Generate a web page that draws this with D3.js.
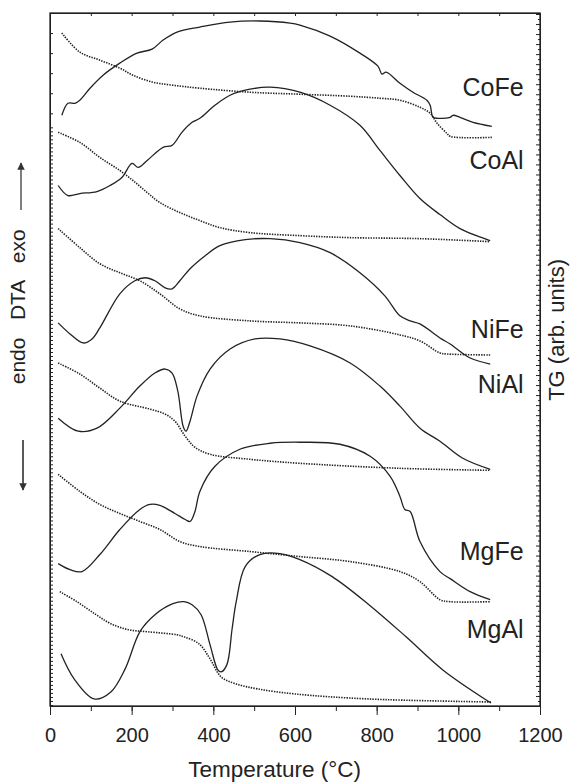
<!DOCTYPE html>
<html>
<head>
<meta charset="utf-8">
<script src="https://cdn.jsdelivr.net/npm/d3@7.9.0/dist/d3.min.js"></script>
<style>
  body { margin: 0; background: #fff; }
  svg { display: block; font-family: "Liberation Sans", Arial, sans-serif; }
  .axis path, .axis line { stroke: #222; }
  .axis text { font-size: 20px; fill: #222; font-family: "Liberation Sans", Arial, sans-serif; }
</style>
</head>
<body>
<div id="chart"></div>
<script>
// temperature ticks (°C)
const tempTicks = [0, 200, 400, 600, 800, 1000, 1200];
const samples = ['CoFe', 'CoAl', 'NiFe', 'NiAl', 'MgFe', 'MgAl'];

// curves: [temperature °C, signal (arb. units, stacked)]
const dtaCoFe = [[29,589],[44,601],[61,601],[73,604],[98,616],[130,629],[171,641],[213,651],[250,655],[277,664],[311,672],[367,677],[441,682],[514,683],[588,681],[612,679],[686,668],[759,651],[803,638],[813,630],[823,632],[857,621],[889,612],[923,604],[931,599],[938,587],[950,586],[980,587],[987,589],[1004,587],[1036,582],[1082,578]];
const tgCoFe = [[29,671],[73,652],[122,644],[171,636],[203,629],[252,622],[301,619],[367,616],[490,612],[612,610],[735,608],[808,606],[857,604],[906,597],[931,591],[948,581],[972,571],[980,568],[1082,567]];

const dtaCoAl = [[20,519],[44,509],[73,511],[115,513],[147,519],[176,527],[201,541],[216,537],[238,544],[277,557],[299,559],[323,572],[348,582],[367,586],[404,599],[441,609],[490,615],[539,617],[612,612],[686,599],[759,579],[808,554],[857,529],[906,506],[955,490],[1004,476],[1078,464]];
const tgCoAl = [[20,572],[73,562],[122,547],[171,534],[203,524],[238,512],[269,502],[318,492],[367,484],[416,477],[490,472],[612,469],[735,467],[906,466],[1078,463]];

const dtaNiFe = [[20,382],[49,371],[81,362],[103,366],[122,377],[171,411],[208,424],[233,427],[257,424],[282,417],[299,416],[318,424],[343,436],[380,449],[416,459],[478,465],[539,466],[612,462],[686,452],[759,432],[820,409],[857,389],[882,384],[906,381],[955,367],[980,361],[1029,347],[1078,341]];
const tgNiFe = [[20,476],[73,457],[122,441],[171,432],[220,424],[269,411],[318,396],[367,389],[490,384],[612,382],[735,379],[857,370],[906,364],[955,352],[972,351],[1078,350]];

const dtaNiAl = [[20,287],[69,274],[115,277],[171,297],[220,319],[257,332],[282,336],[299,332],[313,314],[326,279],[333,274],[343,284],[360,309],[392,336],[441,356],[502,366],[563,366],[637,359],[735,342],[808,319],[857,299],[906,277],[955,264],[1011,247],[1078,236]];
const tgNiAl = [[20,342],[73,331],[122,317],[171,304],[245,296],[282,291],[306,284],[331,269],[355,258],[392,251],[490,246],[612,242],[857,237],[1078,235]];

const dtaMgFe = [[20,142],[49,136],[78,134],[122,151],[171,176],[220,196],[245,201],[269,200],[306,192],[331,186],[343,184],[355,194],[367,214],[404,239],[465,256],[539,262],[612,263],[710,261],[784,249],[833,229],[857,209],[869,196],[882,194],[906,164],[955,134],[980,127],[1029,114],[1078,106]];
const tgMgFe = [[20,231],[73,214],[122,201],[171,192],[220,184],[269,176],[318,164],[367,159],[490,154],[612,149],[735,144],[857,134],[906,124],[955,106],[980,104],[1078,104]];

const dtaMgAl = [[27,52],[59,27],[108,7],[149,14],[184,37],[220,74],[257,91],[301,102],[328,104],[348,101],[370,91],[392,61],[411,36],[419,34],[433,41],[446,77],[456,104],[478,139],[514,151],[563,152],[612,146],[691,129],[781,101],[872,69],[962,36],[1080,3]];
const tgMgAl = [[24,114],[66,104],[113,91],[149,82],[193,76],[240,74],[311,71],[328,69],[365,62],[392,47],[419,29],[456,22],[509,17],[600,12],[781,7],[1080,4]];

const dtaSeries = [dtaCoFe, dtaCoAl, dtaNiFe, dtaNiAl, dtaMgFe, dtaMgAl];
const tgSeries = [tgCoFe, tgCoAl, tgNiFe, tgNiAl, tgMgFe, tgMgAl];
// signal level at which each sample name sits
const labelLevels = [608, 535, 367, 312, 146, 68];

const width = 578, height = 784;
const margin = { top: 13, right: 38, bottom: 78, left: 50 };

const svg = d3.select('#chart').append('svg')
  .attr('width', width)
  .attr('height', height);

const x = d3.scaleLinear().domain([0, 1200])
  .range([margin.left, width - margin.right]);
const y = d3.scaleLinear().domain([0, 691])
  .range([height - margin.bottom, margin.top]);

const line = d3.line()
  .x(d => x(d[0]))
  .y(d => y(d[1]))
  .curve(d3.curveCatmullRom.alpha(0.5));

// curves
svg.append('g').selectAll('path.tg')
  .data(tgSeries)
  .join('path')
  .attr('class', 'tg')
  .attr('d', line)
  .attr('fill', 'none')
  .attr('stroke', '#222')
  .attr('stroke-width', 1.6)
  .attr('stroke-dasharray', '1.4,1.2');

svg.append('g').selectAll('path.dta')
  .data(dtaSeries)
  .join('path')
  .attr('class', 'dta')
  .attr('d', line)
  .attr('fill', 'none')
  .attr('stroke', '#222')
  .attr('stroke-width', 1.3);

// sample names
svg.append('g').selectAll('text')
  .data(samples)
  .join('text')
  .attr('x', x(1160))
  .attr('y', (d, i) => y(labelLevels[i]))
  .attr('text-anchor', 'end')
  .attr('font-size', 25)
  .attr('fill', '#222')
  .text(d => d);

// bottom axis
svg.append('g')
  .attr('class', 'axis')
  .attr('transform', `translate(0,${height - margin.bottom})`)
  .call(d3.axisBottom(x).tickValues(d3.range(0, 1201, 100)).tickSize(5).tickFormat(''))
  .call(g => g.select('.domain').remove());
svg.append('g')
  .attr('class', 'axis')
  .attr('transform', `translate(0,${height - margin.bottom})`)
  .call(d3.axisBottom(x).tickValues(tempTicks).tickSize(9).tickPadding(9)
    .tickFormat(d3.format('d')))
  .call(g => g.selectAll('text').attr('dy', '0.9em'));

// top axis
svg.append('g')
  .attr('class', 'axis')
  .attr('transform', `translate(0,${margin.top})`)
  .call(d3.axisBottom(x).tickValues(d3.range(100, 1200, 100)).tickSize(3).tickFormat(''));

// left axis ticks
const leftTicks = d3.range(671, 590, -20).concat(d3.range(577, 0, -4));
svg.append('g')
  .attr('class', 'axis')
  .attr('transform', `translate(${margin.left},0)`)
  .call(d3.axisRight(y).tickValues(leftTicks).tickSize(3).tickFormat(''));

// right axis ticks
const rightTicks = d3.range(0, 691, 5);
const right = svg.append('g')
  .attr('class', 'axis')
  .attr('transform', `translate(${width - margin.right},0)`)
  .call(d3.axisLeft(y).tickValues(rightTicks).tickSize(3).tickFormat(''));
right.selectAll('.tick line').attr('x2', (d, i) => i % 2 ? -2 : -4);

// frame
svg.append('rect')
  .attr('x', margin.left).attr('y', margin.top)
  .attr('width', width - margin.left - margin.right)
  .attr('height', height - margin.top - margin.bottom)
  .attr('fill', 'none').attr('stroke', '#222').attr('stroke-width', 1.3);

// axis titles
svg.append('text')
  .attr('x', x(550))
  .attr('y', 777)
  .attr('text-anchor', 'middle')
  .attr('font-size', 22.5)
  .attr('fill', '#222')
  .text('Temperature (°C)');

svg.append('text')
  .attr('transform', `translate(564,${y(375)}) rotate(-90)`)
  .attr('text-anchor', 'middle')
  .attr('font-size', 22)
  .attr('fill', '#222')
  .text('TG (arb. units)');

svg.append('text')
  .attr('transform', `translate(25,${y(398)}) rotate(-90)`)
  .attr('text-anchor', 'middle')
  .attr('font-size', 21)
  .attr('fill', '#222')
  .attr('xml:space', 'preserve')
  .text('endo   DTA   exo');

// arrows
svg.append('defs').append('marker')
  .attr('id', 'head')
  .attr('viewBox', '0 0 10 10')
  .attr('refX', 9).attr('refY', 5)
  .attr('markerWidth', 5).attr('markerHeight', 7)
  .attr('orient', 'auto')
  .append('path').attr('d', 'M0,0L10,5L0,10Z').attr('fill', '#333');

svg.append('line')
  .attr('x1', 21).attr('x2', 21)
  .attr('y1', 210).attr('y2', 163)
  .attr('stroke', '#555').attr('stroke-width', 1.5)
  .attr('marker-end', 'url(#head)');
svg.append('line')
  .attr('x1', 23).attr('x2', 23)
  .attr('y1', 440).attr('y2', 490)
  .attr('stroke', '#222').attr('stroke-width', 1.5)
  .attr('marker-end', 'url(#head)');
</script>
</body>
</html>
